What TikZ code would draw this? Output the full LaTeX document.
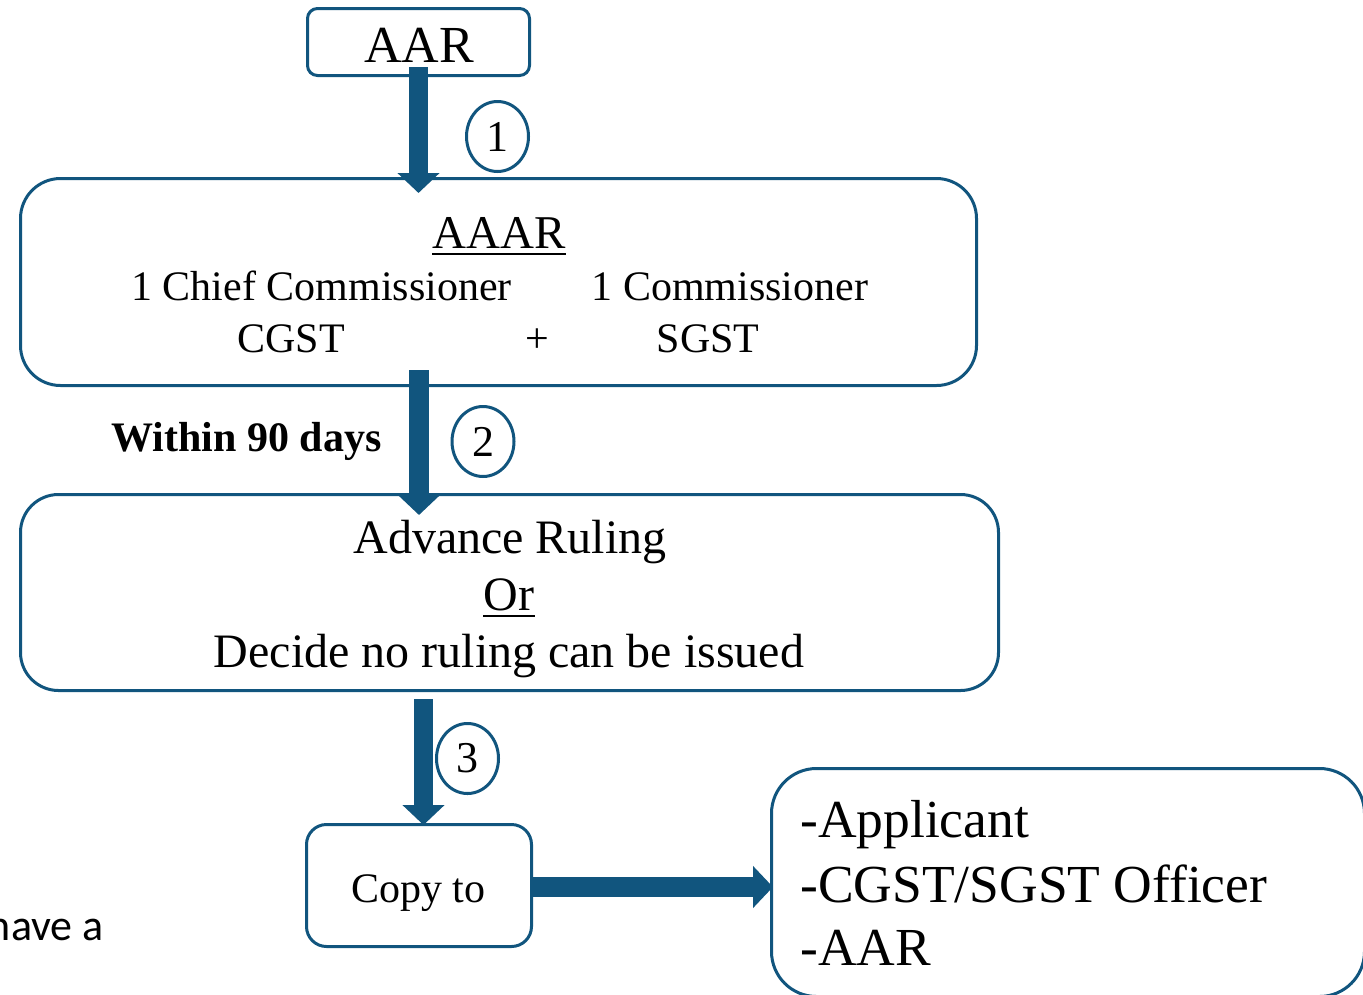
\documentclass[tikz,border=0pt]{standalone}
\usepackage{fontspec}
\setmainfont{Liberation Serif}
\newfontfamily\calibri{Carlito}
\usetikzlibrary{arrows.meta,calc,shapes.geometric}
\definecolor{flowblue}{RGB}{17,85,126}
\begin{document}
\begin{tikzpicture}[x=1pt,y=-1pt,
  box/.style={draw=flowblue,line width=3pt,fill=white,inner sep=0pt},
  badge/.style={ellipse,draw=flowblue,line width=3pt,fill=white,inner sep=0pt,
    minimum width=62pt,minimum height=70pt,font=\fontsize{44}{50}\selectfont},
  txt/.style={inner sep=0pt,anchor=base,font=\fontsize{42}{48}\selectfont},
  bigtxt/.style={inner sep=0pt,anchor=base,font=\fontsize{48}{55}\selectfont},
  listtxt/.style={inner sep=0pt,anchor=base west,font=\fontsize{53.5}{60}\selectfont},
  uline/.style={line width=2.5pt,black},
  blockarrow/.style={line width=19.5pt,flowblue,-{Triangle[width=41pt,length=20pt]}}]
\useasboundingbox (0,0) rectangle (1363,994);

% boxes
\node[box,rounded corners=10pt,minimum width=222pt,minimum height=67pt] (aar) at (418.5,42) {};
\node[box,rounded corners=40pt,minimum width=956pt,minimum height=207pt] (aaar) at (498.5,282) {};
\node[box,rounded corners=38pt,minimum width=978pt,minimum height=196pt] (ar) at (509.5,592.5) {};
\node[box,rounded corners=20pt,minimum width=225pt,minimum height=122pt] (copy) at (419,885.5) {};
\node[box,rounded corners=45pt,minimum width=593pt,minimum height=228pt] (recip) at (1068,882.5) {};

% box texts
\node[inner sep=0pt,anchor=base,font=\fontsize{52}{60}\selectfont] (aartxt) at (419,62) {AAR};

\node[bigtxt,font=\fontsize{47}{54}\selectfont] (aaartxt) at (499,248) {AAAR};
\draw[uline] ([yshift=-6pt]aaartxt.base west) -- ([yshift=-6pt]aaartxt.base east);
\node[txt] (chief) at (321.5,300) {1 Chief Commissioner};
\node[txt] (cgst) at (291,352) {CGST};
\node[txt] (plus) at (537,352) {+};
\node[txt] (comm) at (730,300) {1 Commissioner};
\node[txt] (sgst) at (708,352) {SGST};

\node[bigtxt] (advtxt) at (510,553) {Advance Ruling};
\node[bigtxt] (ortxt) at (509,610) {Or};
\draw[uline] ([yshift=-6pt]ortxt.base west) -- ([yshift=-6pt]ortxt.base east);
\node[bigtxt] (dectxt) at (509,667) {Decide no ruling can be issued};

\node[txt] (copytxt) at (418.5,902) {Copy to};

\node[listtxt] (r1) at (800,837) {-Applicant};
\node[listtxt] (r2) at (800,902) {-CGST/SGST Officer};
\node[listtxt] (r3) at (800,965) {-AAR};

\node[txt,font=\fontsize{42}{48}\selectfont\bfseries] (within) at (246.5,451) {Within 90 days};

\node[inner sep=0pt,anchor=base east,font=\calibri\fontsize{44}{50}\selectfont] (side) at (104,940) {have a};

% step arrows
\draw[blockarrow] ($(aar.south)+(0,-10)$) -- ($(aar.south |- aaar.north)+(0,16)$);
\draw[blockarrow] ($(aar.south |- aaar.south)+(0.5,-17)$) -- ($(aar.south |- ar.north)+(0.5,22)$);
\draw[blockarrow] ($(copy.north |- ar.south)+(4.5,7)$) -- ($(copy.north)+(4.5,2)$);
\draw[blockarrow] ($(copy.east)+(-2,1.5)$) -- ($(copy.east -| recip.west)+(3,1.5)$);

% step numbers
\node[badge] (n1) at (497.5,136.5) {1};
\node[badge] (n2) at (483,441.5) {2};
\node[badge] (n3) at (467.5,758.5) {3};
\end{tikzpicture}
\end{document}
